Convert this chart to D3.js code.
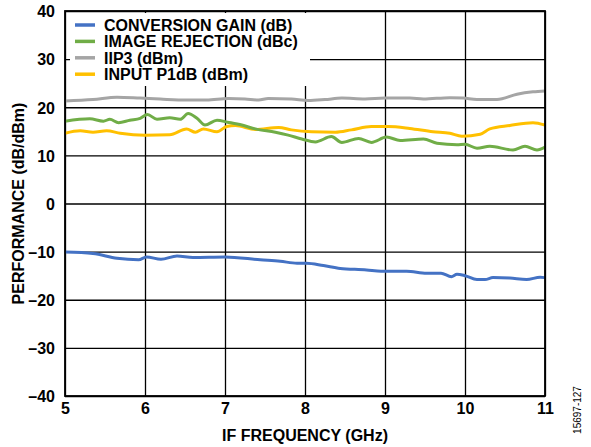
<!DOCTYPE html>
<html>
<head>
<meta charset="utf-8">
<script src="https://cdn.jsdelivr.net/npm/d3@7"></script>
<style>
  html, body { margin: 0; padding: 0; background: #fff; overflow: hidden; }
  svg { display: block; font-family: "Liberation Sans", Arial, sans-serif; }
  .tick text { font-family: "Liberation Sans", Arial, sans-serif; font-size: 16px; font-weight: bold; fill: #000; }
  .axisTitle { font-size: 16px; font-weight: bold; }
  .legend text { font-size: 16px; font-weight: bold; }
</style>
</head>
<body>
<svg width="591" height="447"></svg>
<script>
  const xTicks = [5, 6, 7, 8, 9, 10, 11];
  const yTicks = [-40, -30, -20, -10, 0, 10, 20, 30, 40];

  const seriesNames = [
    "CONVERSION GAIN (dB)",
    "IMAGE REJECTION (dBc)",
    "IIP3 (dBm)",
    "INPUT P1dB (dBm)"
  ];
  const seriesColors = ["#4472C4", "#70AD47", "#A5A5A5", "#FFC000"];

  // [IF frequency GHz, value]
  const conversionGain = [
    [5.0, -10.1], [5.35, -10.4], [5.65, -11.4], [5.92, -11.7], [6.02, -11.1],
    [6.2, -11.6], [6.4, -10.9], [6.6, -11.2], [7.0, -11.1], [7.44, -11.7],
    [7.69, -12.0], [7.9, -12.4], [8.02, -12.4], [8.23, -12.9], [8.44, -13.5],
    [8.77, -13.8], [8.95, -14.1], [9.27, -14.1], [9.52, -14.5], [9.7, -14.5],
    [9.83, -15.2], [9.9, -14.7], [10.0, -15.0], [10.15, -15.8], [10.25, -15.8],
    [10.35, -15.4], [10.56, -15.5], [10.77, -15.8], [10.94, -15.3], [11.0, -15.4]
  ];
  const imageRejection = [
    [5.0, 17.1], [5.31, 17.6], [5.48, 17.1], [5.56, 17.5], [5.67, 16.8],
    [5.81, 17.3], [5.94, 17.7], [6.03, 18.5], [6.15, 17.5], [6.31, 17.8],
    [6.44, 17.5], [6.54, 18.7], [6.65, 17.7], [6.75, 16.3], [6.9, 17.3],
    [7.03, 16.9], [7.21, 16.3], [7.38, 15.5], [7.63, 14.8], [7.79, 14.2],
    [7.96, 13.4], [8.13, 12.8], [8.33, 13.9], [8.46, 12.7], [8.67, 13.5],
    [8.83, 12.7], [9.02, 13.8], [9.19, 13.1], [9.48, 13.4], [9.65, 12.5],
    [9.9, 12.2], [10.0, 12.3], [10.15, 11.5], [10.31, 11.9], [10.6, 11.1],
    [10.75, 11.9], [10.9, 11.1], [11.0, 11.7]
  ];
  const iip3 = [
    [5.0, 21.3], [5.35, 21.6], [5.65, 22.1], [5.94, 21.9], [6.19, 21.7],
    [6.52, 21.5], [6.77, 21.5], [7.04, 21.8], [7.25, 21.7], [7.42, 21.5],
    [7.54, 21.8], [7.83, 21.7], [8.04, 21.4], [8.25, 21.6], [8.46, 21.9],
    [8.75, 21.7], [9.0, 21.9], [9.31, 21.9], [9.48, 21.7], [9.81, 22.0],
    [9.98, 21.9], [10.15, 21.6], [10.4, 21.6], [10.65, 22.7], [10.85, 23.2],
    [11.0, 23.4]
  ];
  const inputP1dB = [
    [5.0, 14.6], [5.19, 15.1], [5.35, 14.8], [5.52, 15.1], [5.69, 14.6],
    [6.0, 14.2], [6.31, 14.3], [6.52, 15.5], [6.63, 14.8], [6.73, 15.5],
    [6.9, 14.9], [7.02, 16.0], [7.13, 16.2], [7.38, 15.4], [7.67, 15.8],
    [7.83, 15.3], [8.08, 14.9], [8.38, 14.8], [8.58, 15.3], [8.83, 16.0],
    [9.04, 16.0], [9.31, 15.6], [9.6, 14.9], [9.81, 14.6], [9.96, 14.0],
    [10.19, 14.4], [10.31, 15.5], [10.56, 16.2], [10.85, 16.8], [11.0, 16.3]
  ];
  const seriesData = [conversionGain, imageRejection, iip3, inputP1dB];

  const svg = d3.select("svg");
  const margin = { top: 11, right: 46, bottom: 51, left: 65 };
  const innerWidth = +svg.attr("width") - margin.left - margin.right;
  const innerHeight = +svg.attr("height") - margin.top - margin.bottom;

  const xScale = d3.scaleLinear().domain([5, 11]).range([0, innerWidth]);
  const yScale = d3.scaleLinear().domain([-40, 40]).range([innerHeight, 0]);

  const g = svg.append("g")
    .attr("transform", `translate(${margin.left},${margin.top})`);

  // gridlines + tick labels
  const xAxisG = g.append("g")
    .attr("transform", `translate(0,${innerHeight})`)
    .call(d3.axisBottom(xScale).tickValues(xTicks).tickSize(-innerHeight).tickPadding(7).tickFormat(d3.format("d")));
  xAxisG.attr("font-family", null).attr("font-size", null);
  xAxisG.select(".domain").remove();
  xAxisG.selectAll(".tick line").attr("stroke", "#000").attr("stroke-width", 1.3);

  const yAxisG = g.append("g")
    .call(d3.axisLeft(yScale).tickValues(yTicks).tickSize(-innerWidth).tickPadding(10)
      .tickFormat(d => d < 0 ? "\u2013" + Math.abs(d) : d));
  yAxisG.attr("font-family", null).attr("font-size", null);
  yAxisG.select(".domain").remove();
  yAxisG.selectAll(".tick line").attr("stroke", "#000").attr("stroke-width", 1.3);
  yAxisG.selectAll(".tick text").attr("dy", "0.36em");

  // legend background hides gridlines
  g.append("rect")
    .attr("x", 5).attr("y", 2)
    .attr("width", 240).attr("height", 73)
    .attr("fill", "#fff");

  const line = d3.line()
    .x(d => xScale(d[0]))
    .y(d => yScale(d[1]))
    .curve(d3.curveMonotoneX);

  const plot = g.append("g");
  [2, 3, 1, 0].forEach(i => {
    plot.append("path")
      .datum(seriesData[i])
      .attr("fill", "none")
      .attr("stroke", seriesColors[i])
      .attr("stroke-width", 3)
      .attr("stroke-linejoin", "round")
      .attr("d", line);
  });

  // frame
  g.append("rect")
    .attr("width", innerWidth).attr("height", innerHeight)
    .attr("fill", "none").attr("stroke", "#000").attr("stroke-width", 1.8);

  const legend = g.append("g").attr("class", "legend")
    .attr("transform", "translate(10,14)");
  seriesNames.forEach((name, i) => {
    const row = legend.append("g").attr("transform", `translate(0,${i * 16.4})`);
    row.append("line")
      .attr("x1", 0).attr("x2", 20)
      .attr("stroke", seriesColors[i]).attr("stroke-width", 3.5);
    row.append("text")
      .attr("x", 29).attr("dy", "0.36em")
      .text(name);
  });

  svg.append("text")
    .attr("class", "axisTitle")
    .attr("x", margin.left + innerWidth / 2)
    .attr("y", 441)
    .attr("text-anchor", "middle")
    .text("IF FREQUENCY (GHz)");

  svg.append("text")
    .attr("class", "axisTitle")
    .attr("transform", `translate(24,${margin.top + innerHeight / 2}) rotate(-90)`)
    .attr("text-anchor", "middle")
    .text("PERFORMANCE (dB/dBm)");

  svg.append("text")
    .attr("transform", "translate(581,410) rotate(-90)")
    .attr("text-anchor", "middle")
    .attr("font-size", 10)
    .text("15697-127");
</script>
</body>
</html>
